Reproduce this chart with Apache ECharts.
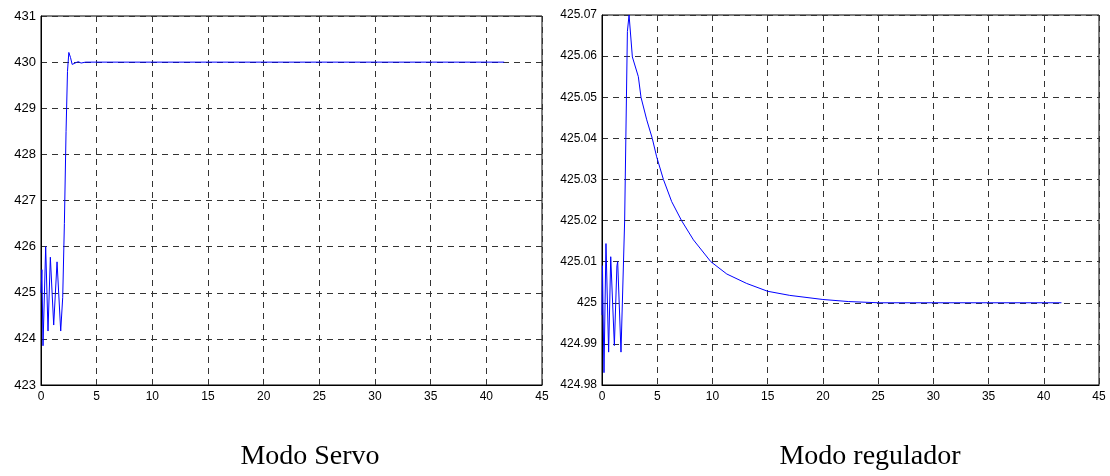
<!DOCTYPE html>
<html>
<head>
<meta charset="utf-8">
<script src="https://cdn.jsdelivr.net/npm/echarts@6/dist/echarts.min.js"></script>
<style>
html,body{margin:0;padding:0;background:#fff;}
#chart{width:1110px;height:476px;}
</style>
</head>
<body>
<div id="chart"></div>
<script>
// Modo Servo
var tServo = [0, 0.08, 0.18, 0.42, 0.63, 0.84, 1.14, 1.44, 1.77, 1.95, 2.1, 2.25, 2.38, 2.5, 2.65, 2.8, 2.95, 3.15, 3.35, 3.6, 4.0, 41.6];
var yServo = [425.0, 425.5, 423.85, 426.0, 424.17, 425.77, 424.3, 425.67, 424.17, 424.9, 426.5, 428.5, 429.8, 430.21, 430.1, 429.95, 429.93, 429.99, 430.01, 429.98, 430.0, 430.0];
// Modo regulador
var tReg = [0, 0.04, 0.18, 0.36, 0.6, 0.79, 1.12, 1.35, 1.42, 1.72, 2.05, 2.3, 2.45, 2.75, 3.29, 3.53, 4.05, 4.55, 4.95, 5.56, 6.31, 7.2, 8.28, 9.85, 11.3, 13.1, 15, 17, 20, 22.3, 25, 41.6];
var yReg = [424.997, 425.009, 424.983, 425.0144, 424.988, 425.0112, 424.9896, 425.009, 425.010, 424.988, 425.02, 425.066, 425.07, 425.0598, 425.055, 425.05, 425.0445, 425.04, 425.0355, 425.03, 425.0246, 425.02, 425.0153, 425.01, 425.007, 425.0047, 425.0028, 425.0018, 425.0008, 425.0003, 425.0, 425.0];
// axis ticks
var xTicks = {min: 0, max: 45, interval: 5};
var yServoTicks = {min: 423, max: 431, interval: 1};
var yRegTicks = {min: 424.98, max: 425.07, interval: 0.01};
var titles = ['Modo Servo', 'Modo regulador'];

function pairs(t, y) { return t.map(function (v, i) { return [v, y[i]]; }); }
function fmt(v) { return String(parseFloat(Number(v).toFixed(2))); }

var gridLine = {show: true, lineStyle: {color: '#333', type: [6, 5], width: 1}};
var font = 'Liberation Sans, Arial, sans-serif';

function xAxis(idx) {
  return {
    type: 'value', gridIndex: idx, min: xTicks.min, max: xTicks.max, interval: xTicks.interval,
    axisLine: {show: true, onZero: false, lineStyle: {color: '#000', width: 1}},
    axisTick: {show: false},
    axisLabel: {color: '#000', fontSize: 12, fontFamily: font, margin: 6, formatter: fmt},
    splitLine: gridLine
  };
}
function yAxis(idx, tk, fs) {
  return {
    type: 'value', gridIndex: idx, min: tk.min, max: tk.max, interval: tk.interval,
    axisLine: {show: true, lineStyle: {color: '#000', width: 1}},
    axisTick: {show: false},
    axisLabel: {color: '#000', fontSize: fs, fontFamily: font, margin: 5, formatter: fmt},
    splitLine: gridLine
  };
}

var chart = echarts.init(document.getElementById('chart'), null, {renderer: 'canvas'});
chart.setOption({
  animation: false,
  backgroundColor: '#fff',
  grid: [
    {left: 41, top: 16, width: 501, height: 369, show: true, borderColor: '#000', borderWidth: 1, backgroundColor: '#fff'},
    {left: 602, top: 15, width: 497, height: 370, show: true, borderColor: '#000', borderWidth: 1, backgroundColor: '#fff'}
  ],
  xAxis: [xAxis(0), xAxis(1)],
  yAxis: [yAxis(0, yServoTicks, 13), yAxis(1, yRegTicks, 12)],
  series: [
    {type: 'line', xAxisIndex: 0, yAxisIndex: 0, data: pairs(tServo, yServo), showSymbol: false, symbol: 'none',
     lineStyle: {color: '#0000ff', width: 1}, z: 5},
    {type: 'line', xAxisIndex: 1, yAxisIndex: 1, data: pairs(tReg, yReg), showSymbol: false, symbol: 'none',
     lineStyle: {color: '#0000ff', width: 1}, z: 5}
  ],
  graphic: [
    {type: 'text', x: 310, y: 457, style: {text: titles[0], font: '28px "Liberation Serif", "Times New Roman", serif', fill: '#000', textAlign: 'center', textVerticalAlign: 'middle'}},
    {type: 'text', x: 870, y: 457, style: {text: titles[1], font: '28px "Liberation Serif", "Times New Roman", serif', fill: '#000', textAlign: 'center', textVerticalAlign: 'middle'}}
  ]
});
</script>
</body>
</html>
